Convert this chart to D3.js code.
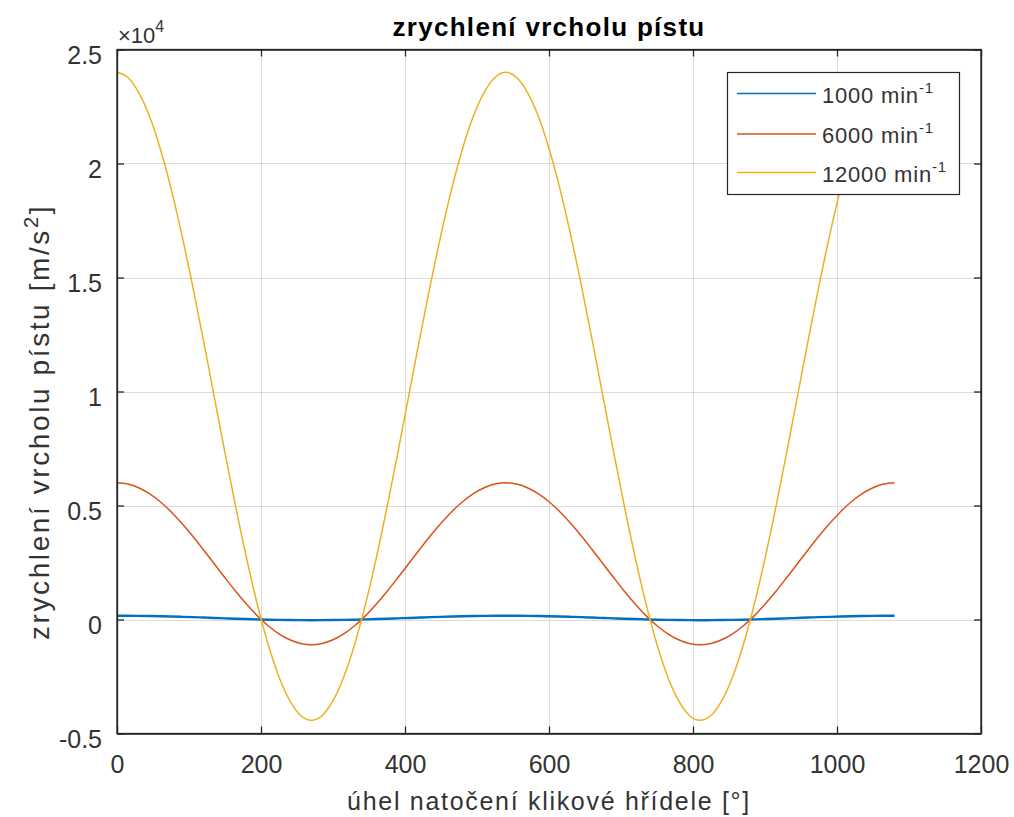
<!DOCTYPE html>
<html>
<head>
<meta charset="utf-8">
<script src="https://cdn.jsdelivr.net/npm/d3@7"></script>
<style>
  body { margin: 0; background: #fff; }
  text { font-family: "Liberation Sans", Arial, Helvetica, sans-serif; fill: #262626; }
</style>
</head>
<body>
<script>
// crank angle [deg]
var angle = [0, 15, 30, 45, 60, 75, 90, 105, 120, 135, 150, 165, 180, 195, 210, 225, 240, 255,
  270, 285, 300, 315, 330, 345, 360, 375, 390, 405, 420, 435, 450, 465, 480, 495, 510, 525,
  540, 555, 570, 585, 600, 615, 630, 645, 660, 675, 690, 705, 720, 735, 750, 765, 780, 795,
  810, 825, 840, 855, 870, 885, 900, 915, 930, 945, 960, 975, 990, 1005, 1020, 1035, 1050, 1065, 1080];

// piston acceleration [m/s^2]
var acc1000 = [167, 165, 161, 153, 143, 131, 117, 102, 85, 68, 51, 34, 19, 5, -8, -18, -25, -29,
  -31, -29, -25, -18, -8, 5, 19, 34, 51, 68, 85, 102, 117, 131, 143, 153, 161, 165,
  167, 165, 161, 153, 143, 131, 117, 102, 85, 68, 51, 34, 19, 5, -8, -18, -25, -29,
  -31, -29, -25, -18, -8, 5, 19, 34, 51, 68, 85, 102, 117, 131, 143, 153, 161, 165, 167];

var acc6000 = [6000, 5940, 5780, 5520, 5165, 4730, 4220, 3660, 3060, 2445, 1830, 1230, 670, 160, -275, -630, -890, -1050,
  -1105, -1050, -890, -630, -275, 160, 670, 1230, 1830, 2445, 3060, 3660, 4220, 4730, 5165, 5520, 5780, 5940,
  6000, 5940, 5780, 5520, 5165, 4730, 4220, 3660, 3060, 2445, 1830, 1230, 670, 160, -275, -630, -890, -1050,
  -1105, -1050, -890, -630, -275, 160, 670, 1230, 1830, 2445, 3060, 3660, 4220, 4730, 5165, 5520, 5780, 5940, 6000];

var acc12000 = [24000, 23770, 23120, 22080, 20660, 18910, 16880, 14640, 12250, 9780, 7310, 4920, 2680, 650, -1100, -2520, -3560, -4210,
  -4420, -4210, -3560, -2520, -1100, 650, 2680, 4920, 7310, 9780, 12250, 14640, 16880, 18910, 20660, 22080, 23120, 23770,
  24000, 23770, 23120, 22080, 20660, 18910, 16880, 14640, 12250, 9780, 7310, 4920, 2680, 650, -1100, -2520, -3560, -4210,
  -4420, -4210, -3560, -2520, -1100, 650, 2680, 4920, 7310, 9780, 12250, 14640, 16880, 18910, 20660, 22080, 23120, 23770, 24000];

var seriesNames = ["1000", "6000", "12000"];
var seriesColors = ["#0072BD", "#D95319", "#EDB120"];
var xTicks = [0, 200, 400, 600, 800, 1000, 1200];
var yTicks = [-5000, 0, 5000, 10000, 15000, 20000, 25000];

var W = 1014, H = 817;
var pL = 117, pR = 981, pT = 49.5, pB = 733.5;

var svg = d3.select("body").append("svg")
    .attr("width", W)
    .attr("height", H);

var xScale = d3.scaleLinear().domain([0, 1200]).range([pL, pR]);
var yScale = d3.scaleLinear().domain([-5000, 25000]).range([pB, pT]);

// grid
svg.append("g").selectAll("line")
  .data(xTicks).enter().append("line")
    .attr("x1", function(d) { return Math.round(xScale(d)) + 0.5; })
    .attr("x2", function(d) { return Math.round(xScale(d)) + 0.5; })
    .attr("y1", pT).attr("y2", pB)
    .style("stroke", "#dcdcdc").style("stroke-width", 1);
svg.append("g").selectAll("line")
  .data(yTicks).enter().append("line")
    .attr("y1", function(d) { return Math.round(yScale(d)) + 0.5; })
    .attr("y2", function(d) { return Math.round(yScale(d)) + 0.5; })
    .attr("x1", pL).attr("x2", pR)
    .style("stroke", "#dcdcdc").style("stroke-width", 1);

// lines
var series = [acc1000, acc6000, acc12000];
var line = d3.line()
    .x(function(d, i) { return xScale(angle[i]); })
    .y(function(d) { return yScale(d); })
    .curve(d3.curveMonotoneX);

series.forEach(function(s, k) {
  svg.append("path")
    .datum(s)
    .attr("d", line)
    .style("fill", "none")
    .style("stroke", seriesColors[k])
    .style("stroke-width", k == 0 ? 2.4 : 1.5);
});

// axes (ticks inside like matlab)
var fmtY = function(d) { return d / 1e4; };
var xAxis = d3.axisBottom(xScale).tickValues(xTicks).tickFormat(d3.format("d"))
    .tickSizeInner(-7).tickSizeOuter(0).tickPadding(22);
var yAxis = d3.axisLeft(yScale).tickValues(yTicks).tickFormat(fmtY)
    .tickSizeInner(-7).tickSizeOuter(0).tickPadding(15);

var gx = svg.append("g").attr("transform", "translate(0," + pB + ")").call(xAxis);
var gy = svg.append("g").attr("transform", "translate(" + pL + ",0)").call(yAxis);
svg.append("g").attr("transform", "translate(0," + pT + ")")
  .call(d3.axisTop(xScale).tickValues(xTicks).tickSizeInner(-7).tickSizeOuter(0).tickFormat(""));
svg.append("g").attr("transform", "translate(" + pR + ",0)")
  .call(d3.axisRight(yScale).tickValues(yTicks).tickSizeInner(-7).tickSizeOuter(0).tickFormat(""));

svg.selectAll(".domain").style("stroke", "#262626").style("stroke-width", 1.3);
svg.selectAll(".tick line").style("stroke", "#262626").style("stroke-width", 1.3);
svg.selectAll(".tick text").style("font-size", "25px").style("fill", "#333")
  .style("font-family", "'Liberation Sans', Arial, sans-serif");
gy.selectAll(".tick text").attr("dy", "0.55em");

// box
svg.append("rect")
  .attr("x", pL).attr("y", pT)
  .attr("width", pR - pL).attr("height", pB - pT)
  .style("fill", "none").style("stroke", "#262626").style("stroke-width", 1.3);

// exponent
var ex = svg.append("text").attr("x", 118).attr("y", 43).style("font-size", "22px").style("fill", "#333");
ex.append("tspan").text("\u00d710");
ex.append("tspan").attr("dy", -11).style("font-size", "16px").text("4");

// title
svg.append("text")
  .attr("x", (pL + pR) / 2).attr("y", 36)
  .style("text-anchor", "middle")
  .style("font-size", "26px").style("font-weight", "bold")
  .style("letter-spacing", "1.3px")
  .style("fill", "#000")
  .text("zrychlení vrcholu pístu");

// x label
svg.append("text")
  .attr("x", (pL + pR) / 2).attr("y", 810)
  .style("text-anchor", "middle")
  .style("font-size", "25px")
  .style("letter-spacing", "1.7px")
  .style("fill", "#333")
  .text("úhel natočení klikové hřídele [°]");

// y label
var yl = svg.append("text")
  .attr("transform", "translate(49,422) rotate(-90)")
  .style("text-anchor", "middle")
  .style("font-size", "28px")
  .style("letter-spacing", "2.6px")
  .style("fill", "#333");
yl.append("tspan").text("zrychlení vrcholu pístu [m/s");
yl.append("tspan").attr("dy", -11).style("font-size", "20px").text("2");
yl.append("tspan").attr("dy", 11).text("]");

// legend
var lg = svg.append("g");
lg.append("rect")
  .attr("x", 727.5).attr("y", 72.5)
  .attr("width", 232).attr("height", 122)
  .style("fill", "#fff").style("stroke", "#262626").style("stroke-width", 1.2);

var rowY = [93.5, 134, 172.5];
seriesNames.forEach(function(n, k) {
  lg.append("line")
    .attr("x1", 737).attr("x2", 816)
    .attr("y1", rowY[k]).attr("y2", rowY[k])
    .style("stroke", seriesColors[k]).style("stroke-width", 1.5);
  var t = lg.append("text")
    .attr("x", 822).attr("y", rowY[k] + 9)
    .style("font-size", "22px")
    .style("letter-spacing", "0.8px")
    .style("fill", "#333");
  t.append("tspan").text(n + " min");
  t.append("tspan").attr("dy", -10).style("font-size", "15px").text("-1");
});
</script>
</body>
</html>
